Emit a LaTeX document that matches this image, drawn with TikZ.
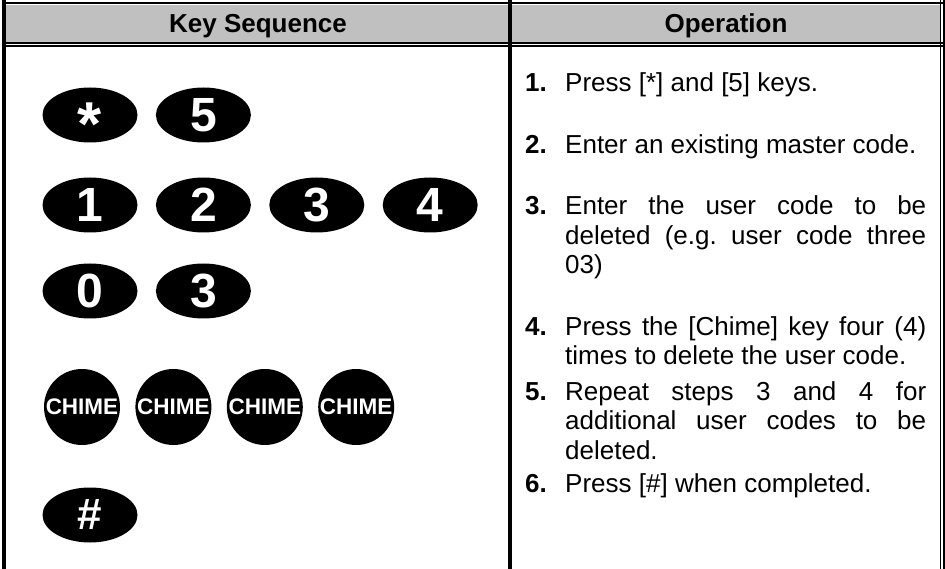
\documentclass[tikz,border=0pt]{standalone}
\usepackage{fontspec}
\setmainfont{Liberation Sans}
\usetikzlibrary{shapes.geometric,positioning}

\definecolor{headgray}{RGB}{192,192,192}
\tolerance=10000
\hbadness=10000

\tikzset{
  key/.style={ellipse, fill=black, text=white, minimum width=95pt, minimum height=55pt,
    inner sep=0pt, font=\fontsize{48}{48}\selectfont\bfseries},
  chimekey/.style={circle, fill=black, text=white, minimum size=76pt, inner sep=0pt,
    font=\fontsize{22.5}{22.5}\selectfont\bfseries},
  head/.style={anchor=base, inner sep=0pt, font=\fontsize{26}{30}\selectfont\bfseries},
  stepno/.style={anchor=base west, inner sep=0pt, font=\fontsize{26}{29.5}\selectfont\bfseries},
  steptext/.style={anchor=base west, inner sep=0pt, text width=361pt, align=justify,
    font=\fontsize{26}{29.5}\selectfont\frenchspacing},
}

\begin{document}
\begin{tikzpicture}[x=1pt,y=-1pt]
    \useasboundingbox (0,0) rectangle (945,569);

    % header band and table lines
    \fill[headgray] (6,5) rectangle (940,42);
    \draw[line width=2.5pt] (2,3) -- (945,3);
    \draw[line width=4pt] (4,0) -- (4,569);
    \draw[line width=4pt] (510,0) -- (510,569);
    \draw[line width=1.5pt] (940.5,0) -- (940.5,569);
    \draw[line width=2.5pt] (944,0) -- (944,569);
    \draw[line width=2.5pt] (2,43) -- (945,43);
    \draw[line width=1.2pt] (2,46) -- (945,46);

    \node[head] (hkeys) at (258,33) {Key Sequence};
    \node[head] (hops) at (726,33) {Operation};

    % keys
    \node[key] (kstar) at (90,115) {\fontsize{62}{62}\selectfont\raisebox{-31pt}[0pt][0pt]{*}};
    \node[key, right=18pt of kstar] (kfive) {5};

    \node[key] (kone) at (90,205) {1};
    \node[key, right=18pt of kone] (ktwo) {2};
    \node[key, right=18pt of ktwo] (kthree) {3};
    \node[key, right=18pt of kthree] (kfour) {4};

    \node[key] (kzero) at (90,291) {0};
    \node[key, right=18pt of kzero] (kthreeb) {3};

    \node[chimekey] (chimea) at (82,407) {CHIME};
    \node[chimekey, right=15pt of chimea] (chimeb) {CHIME};
    \node[chimekey, right=15pt of chimeb] (chimec) {CHIME};
    \node[chimekey, right=15pt of chimec] (chimed) {CHIME};

    \node[key, font=\fontsize{44}{44}\selectfont\bfseries] (khash) at (90,515) {\#};

    % operation steps
    \node[stepno] (n1) at (525,92) {1.};
    \node[steptext] (s1) at (565,92) {Press [*] and [5] keys.};
    \node[stepno] (n2) at (525,154) {2.};
    \node[steptext] (s2) at (565,154) {Enter an existing master code.};
    \node[stepno] (n3) at (525,215) {3.};
    \node[steptext] (s3) at (565,215) {Enter the user code to be\linebreak
      deleted (e.g. user code three\linebreak 03)};
    \node[stepno] (n4) at (525,335) {4.};
    \node[steptext] (s4) at (565,335) {Press the [Chime] key four (4)\linebreak
      times to delete the user code.};
    \node[stepno] (n5) at (525,400) {5.};
    \node[steptext] (s5) at (565,400) {Repeat steps 3 and 4 for\linebreak
      additional user codes to be\linebreak deleted.};
    \node[stepno] (n6) at (525,492) {6.};
    \node[steptext] (s6) at (565,492) {Press [\#] when completed.};
\end{tikzpicture}
\end{document}
